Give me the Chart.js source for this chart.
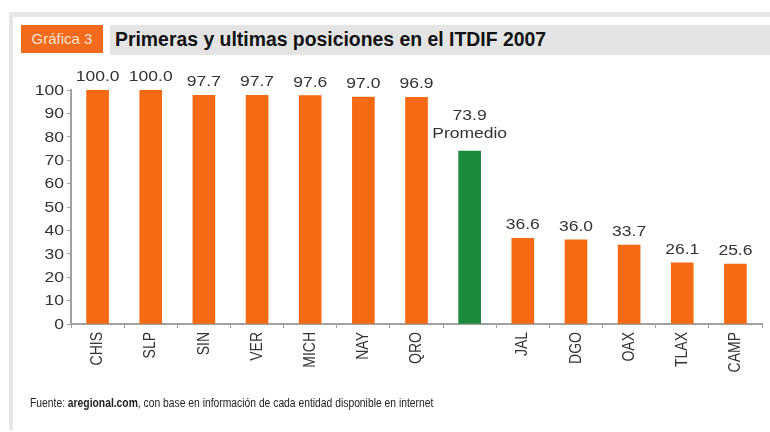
<!DOCTYPE html>
<html><head><meta charset="utf-8">
<script src="https://cdn.jsdelivr.net/npm/chart.js@4.4.1/dist/chart.umd.min.js"></script>
<style>
html,body{margin:0;padding:0;background:#fff;}
#wrap{position:relative;width:770px;height:432px;overflow:hidden;font-family:"Liberation Sans",Arial,sans-serif;}
#frameTop{position:absolute;left:9px;top:12px;width:761px;height:5px;background:#e6e6e6;}
#frameLeft{position:absolute;left:9px;top:12px;width:4px;height:418px;background:#e6e6e6;}
#badge{position:absolute;left:21px;top:25px;width:82px;height:28px;background:#f26a1b;color:#fde0cc;font-size:15px;line-height:28px;text-align:center;}
#titlebar{position:absolute;left:110px;top:25px;width:660px;height:30px;background:#e4e4e4;}
#title{position:absolute;left:115px;top:24px;height:30px;line-height:30px;font-size:19.4px;font-weight:bold;color:#111;white-space:nowrap;}
#foot{position:absolute;left:30px;top:396px;font-size:12px;color:#222;white-space:nowrap;transform:scaleX(0.86);transform-origin:0 0;}
canvas{position:absolute;left:0;top:0;}
</style></head>
<body><div id="wrap">
<div id="frameTop"></div><div id="frameLeft"></div>
<div id="badge">Gráfica 3</div>
<div id="titlebar"></div>
<div id="title">Primeras y ultimas posiciones en el ITDIF 2007</div>
<canvas id="c" width="770" height="432"></canvas>
<div id="foot">Fuente: <b>aregional.com</b>, con base en información de cada entidad disponible en internet</div>
</div>
<script>
const categories = ["CHIS","SLP","SIN","VER","MICH","NAY","QRO","","JAL","DGO","OAX","TLAX","CAMP"];
const values = [100.0,100.0,97.7,97.7,97.6,97.0,96.9,73.9,36.6,36.0,33.7,26.1,25.6];
const valueLabels = ["100.0","100.0","97.7","97.7","97.6","97.0","96.9","73.9","36.6","36.0","33.7","26.1","25.6"];
const averageIndex = 7;
const averageText = "Promedio";
const yTicks = [0,10,20,30,40,50,60,70,80,90,100];

const ORANGE = "#f66a14", GREEN = "#1b8a3a", AXIS = "#a0a0a0", TXT = "#333";
const FONT = "'Liberation Sans', Arial, sans-serif";
const STRETCH = 1.25;

function stretchedText(ctx, text, x, y, align) {
  ctx.save();
  ctx.translate(x, y);
  ctx.scale(STRETCH, 1);
  ctx.textAlign = align;
  ctx.fillText(text, 0, 0);
  ctx.restore();
}

const labelPlugin = {
  id: 'vlabels',
  afterDraw(chart) {
    const ctx = chart.ctx;
    const meta = chart.getDatasetMeta(0);
    ctx.save();
    ctx.font = "14px " + FONT;
    ctx.fillStyle = TXT;
    ctx.textBaseline = "alphabetic";
    meta.data.forEach((bar, i) => {
      if (i === averageIndex) {
        stretchedText(ctx, averageText, bar.x, bar.y - 13, "center");
        stretchedText(ctx, valueLabels[i], bar.x, bar.y - 31, "center");
      } else {
        stretchedText(ctx, valueLabels[i], bar.x, bar.y - 9, "center");
      }
    });
    const ys = chart.scales.y;
    ctx.textBaseline = "middle";
    yTicks.forEach(v => {
      stretchedText(ctx, String(v), ys.left + ys.width - 7, ys.getPixelForValue(v) + 1, "right");
    });
    const xs = chart.scales.x;
    categories.forEach((c, i) => {
      if (!c) return;
      ctx.save();
      ctx.translate(xs.getPixelForValue(i), xs.top + 8);
      ctx.rotate(-Math.PI / 2);
      ctx.scale(1, 1.2);
      ctx.textAlign = "right";
      ctx.textBaseline = "middle";
      ctx.fillText(c, 0, 0);
      ctx.restore();
    });
    ctx.restore();
  }
};

new Chart(document.getElementById('c'), {
  type: 'bar',
  data: {
    labels: categories,
    datasets: [{
      data: values,
      backgroundColor: values.map((v, i) => i === averageIndex ? GREEN : ORANGE),
      barThickness: 22,
      borderWidth: 0
    }]
  },
  options: {
    responsive: false,
    animation: false,
    layout: { padding: { left: 21, right: 8, top: 90, bottom: 0 } },
    plugins: { legend: { display: false }, tooltip: { enabled: false } },
    scales: {
      x: {
        offset: true,
        grid: { display: true, offset: true, drawOnChartArea: false, drawTicks: true, tickLength: 4, color: AXIS, lineWidth: 1 },
        border: { display: true, color: AXIS, width: 2 },
        ticks: { minRotation: 90, maxRotation: 90, autoSkip: false, padding: 4, color: 'rgba(0,0,0,0)', font: { size: 13, family: FONT } },
        afterFit(s) { s.height = 108; }
      },
      y: {
        min: 0, max: 100,
        afterBuildTicks(s) { s.ticks = yTicks.map(v => ({ value: v })); },
        grid: { display: true, drawOnChartArea: false, drawTicks: true, tickLength: 4, color: AXIS, lineWidth: 1 },
        border: { display: true, color: AXIS, width: 2 },
        ticks: { padding: 3, color: 'rgba(0,0,0,0)', font: { size: 13, family: FONT } },
        afterFit(s) { s.width = 50; }
      }
    }
  },
  plugins: [labelPlugin]
});
</script>
</body></html>
